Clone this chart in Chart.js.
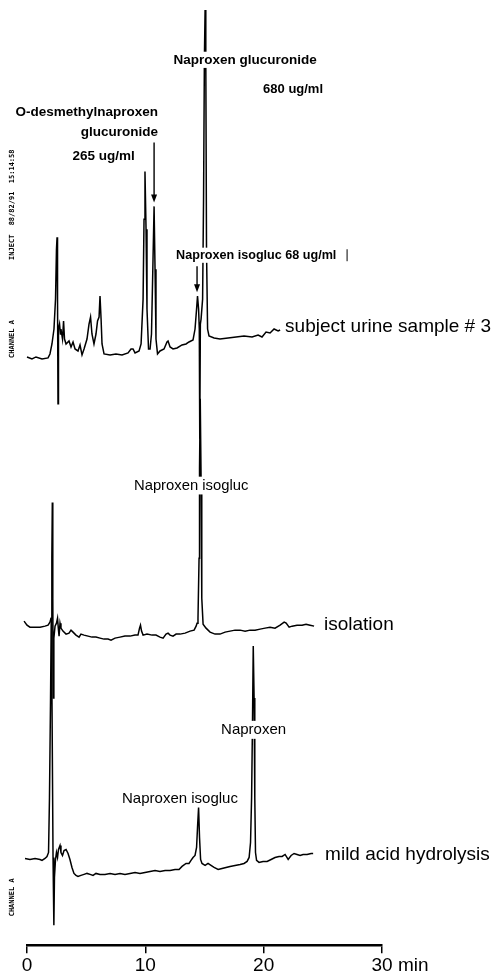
<!DOCTYPE html>
<html>
<head>
<meta charset="utf-8">
<script src="https://cdn.jsdelivr.net/npm/chart.js@4.4.1/dist/chart.umd.min.js"></script>
<style>
  html, body { margin: 0; padding: 0; background: #fff; }
  canvas { display: block; }
</style>
</head>
<body>
<canvas id="chrom" width="492" height="978"></canvas>
<script>
// retention time (min) and detector response (arbitrary units, traces stacked)
const urineTime = [0.00,0.42,0.76,1.27,1.78,1.94,2.11,2.28,2.41,2.49,2.54,2.58,2.62,2.66,2.75,2.83,2.87,3.00,3.09,3.17,3.30,3.55,3.72,3.89,4.06,4.31,4.48,4.65,4.82,5.07,5.24,5.37,5.49,5.66,5.83,5.96,6.09,6.17,6.26,6.34,6.51,7.02,7.52,8.03,8.54,8.79,8.96,9.13,9.47,9.64,9.81,9.89,9.97,10.06,10.14,10.27,10.40,10.52,10.65,10.74,10.82,10.90,11.03,11.24,11.58,11.83,11.92,12.09,12.34,12.68,13.10,13.44,13.69,14.03,14.20,14.33,14.41,14.50,14.56,14.60,14.65,14.71,14.84,14.92,14.99,15.05,15.11,15.17,15.26,15.38,15.81,16.31,16.99,17.67,18.34,19.02,19.53,19.86,20.20,20.54,20.88,21.22,21.39];
const urineSignal = [590,588,590,588,589,593,603,618,648,698,710,648,543,618,623,613,618,608,626,608,603,606,600,605,598,596,602,592,598,608,623,630,613,603,613,626,630,651,628,603,593,592,593,592,594,598,598,594,596,603,648,728,776,718,638,598,598,613,688,741,678,608,593,596,598,605,606,600,598,599,602,603,605,607,618,638,651,638,618,508,623,628,648,748,888,938,888,698,618,611,609,608,609,610,611,610,612,610,615,614,618,616,617];

const isolationTime = [-0.51,-0.25,0.00,0.25,0.68,1.10,1.52,1.78,1.94,2.03,2.10,2.14,2.18,2.22,2.27,2.37,2.49,2.58,2.66,2.71,2.79,2.87,3.04,3.30,3.55,3.72,3.89,4.14,4.40,4.56,4.82,5.16,5.49,5.83,6.17,6.51,6.85,7.10,7.44,7.86,8.28,8.71,9.13,9.38,9.51,9.59,9.68,9.81,10.14,10.57,10.90,11.24,11.50,11.75,11.92,12.09,12.34,12.60,12.93,13.36,13.78,14.12,14.29,14.37,14.45,14.54,14.58,14.64,14.71,14.77,14.88,15.13,15.47,15.89,16.31,16.74,17.16,17.58,18.01,18.43,18.85,19.27,19.70,20.12,20.54,20.96,21.39,21.73,21.90,22.15,22.40,22.82,23.25,23.58,23.92,24.26];
const isolationSignal = [326,325,321,319,319,319,320,321,324,328,388,444,348,248,308,320,323,328,316,310,323,318,315,312,313,316,314,311,309,312,311,310,309,309,308,307,307,306,308,309,310,310,311,311,318,321,315,311,312,311,311,309,308,312,313,311,310,312,312,313,315,316,320,323,328,388,478,548,468,348,322,318,314,312,312,314,315,316,316,315,316,316,317,318,319,318,321,324,323,319,320,321,321,322,321,320];

const hydrolysisTime = [-0.17,0.25,0.68,1.10,1.27,1.52,1.69,1.82,1.90,1.99,2.05,2.11,2.20,2.27,2.32,2.41,2.49,2.58,2.66,2.79,2.87,3.00,3.13,3.30,3.47,3.63,3.80,3.97,4.14,4.31,4.56,4.82,5.07,5.33,5.58,5.83,6.17,6.59,7.02,7.44,7.86,8.28,8.71,9.13,9.55,9.97,10.40,10.82,11.24,11.67,12.09,12.51,12.85,13.10,13.44,13.69,13.86,14.03,14.20,14.33,14.41,14.50,14.58,14.67,14.79,15.05,15.30,15.55,15.81,16.15,16.48,16.82,17.16,17.58,18.01,18.34,18.60,18.77,18.89,18.98,19.06,19.12,19.19,19.25,19.31,19.40,19.61,19.95,20.29,20.63,20.96,21.30,21.56,21.81,22.07,22.32,22.57,22.82,23.08,23.33,23.67,24.01,24.18];
const hydrolysisSignal = [87,86,87,86,85,87,89,93,148,248,328,248,88,20,68,86,93,88,96,100,93,90,95,96,92,86,78,72,70,69,70,71,72,71,70,72,71,71,72,71,72,71,72,73,72,73,74,75,74,75,75,76,76,79,82,82,85,88,90,98,118,138,108,86,82,80,82,80,78,76,77,78,79,80,81,82,84,88,103,148,228,300,248,148,93,85,83,84,84,86,88,89,89,91,86,90,92,91,90,91,91,92,92];

const timeTicks = [0, 10, 20, 30];

// peak labels: text, anchor time / response, font, alignment, white knock-out
const peakLabels = [
  { text: 'Naproxen glucuronide', t: 12.38, v: 888, size: 13.5, bold: true, align: 'left', box: true },
  { text: '680 ug/ml', t: 19.95, v: 858, size: 13, bold: true, align: 'left' },
  { text: 'O-desmethylnaproxen', t: 11.07, v: 835, size: 13.5, bold: true, align: 'right' },
  { text: 'glucuronide', t: 11.07, v: 815, size: 13.5, bold: true, align: 'right' },
  { text: '265 ug/ml', t: 3.85, v: 791, size: 13.5, bold: true, align: 'left' },
  { text: 'Naproxen isogluc 68 ug/ml', t: 12.60, v: 692, size: 12.6, bold: true, align: 'left', box: true },
  { text: 'subject urine sample # 3', t: 21.81, v: 620, size: 19, align: 'left' },
  { text: 'Naproxen isogluc', t: 9.04, v: 461, size: 14.8, align: 'left', box: true },
  { text: 'isolation', t: 25.10, v: 321, size: 19, align: 'left' },
  { text: 'Naproxen isogluc', t: 8.03, v: 147, size: 15, align: 'left' },
  { text: 'Naproxen', t: 16.40, v: 216, size: 15, align: 'left', box: true },
  { text: 'mild acid hydrolysis', t: 25.19, v: 91, size: 19, align: 'left' }
];
const arrows = [
  { t: 10.74, from: 805, to: 745 },
  { t: 14.37, from: 681, to: 655 }
];
const recorderNotes = [
  { text: '88/82/91  15:14:58', v: 760 },
  { text: 'INJECT', v: 700 },
  { text: 'CHANNEL A', v: 608 },
  { text: 'CHANNEL A', v: 48 }
];

const FONT = '"Liberation Sans", Arial, sans-serif';
const MONO = '"DejaVu Sans Mono", "Liberation Mono", monospace';

const annotate = {
  id: 'annotate',
  afterDatasetsDraw(chart) {
    const { ctx, scales: { x, y } } = chart;
    ctx.save();
    ctx.textBaseline = 'middle';
    peakLabels.forEach(l => {
      ctx.font = `${l.bold ? 'bold ' : ''}${l.size}px ${FONT}`;
      const px = x.getPixelForValue(l.t);
      const py = y.getPixelForValue(l.v);
      const w = ctx.measureText(l.text).width;
      const left = l.align === 'right' ? px - w : px;
      if (l.box) {
        ctx.fillStyle = '#fff';
        ctx.fillRect(left - 2, py - l.size * 0.6, w + 4, l.size * 1.2);
      }
      ctx.fillStyle = '#000';
      ctx.fillText(l.text, left, py);
    });
    // little tick mark after "68 ug/ml"
    ctx.strokeStyle = '#000';
    ctx.lineWidth = 1;
    const bx = x.getPixelForValue(27.05);
    ctx.beginPath();
    ctx.moveTo(bx, y.getPixelForValue(698));
    ctx.lineTo(bx, y.getPixelForValue(686));
    ctx.stroke();

    ctx.lineWidth = 1.4;
    ctx.fillStyle = '#000';
    arrows.forEach(a => {
      const ax = x.getPixelForValue(a.t);
      const y0 = y.getPixelForValue(a.from);
      const y1 = y.getPixelForValue(a.to);
      ctx.beginPath();
      ctx.moveTo(ax, y0);
      ctx.lineTo(ax, y1 - 6);
      ctx.stroke();
      ctx.beginPath();
      ctx.moveTo(ax - 3, y1 - 8);
      ctx.lineTo(ax + 3, y1 - 8);
      ctx.lineTo(ax, y1);
      ctx.closePath();
      ctx.fill();
    });

    // rotated recorder print-out on the left edge
    ctx.font = `bold 7px ${MONO}`;
    ctx.textAlign = 'center';
    recorderNotes.forEach(n => {
      ctx.save();
      ctx.translate(12, y.getPixelForValue(n.v));
      ctx.rotate(-Math.PI / 2);
      ctx.fillText(n.text, 0, 0);
      ctx.restore();
    });

    // unit after the last tick
    ctx.textAlign = 'left';
    ctx.font = `19px ${FONT}`;
    ctx.fillText('min', x.getPixelForValue(30) + 16, chart.chartArea.bottom + 21);
    ctx.restore();
  }
};

const toPoints = (ts, vs) => ts.map((t, i) => ({ x: t, y: vs[i] }));
const trace = (label, ts, vs) => ({
  label,
  data: toPoints(ts, vs),
  borderColor: '#000',
  borderWidth: 1.5,
  pointRadius: 0,
  tension: 0,
  clip: false
});

new Chart(document.getElementById('chrom'), {
  type: 'line',
  data: {
    datasets: [
      trace('subject urine sample # 3', urineTime, urineSignal),
      trace('isolation', isolationTime, isolationSignal),
      trace('mild acid hydrolysis', hydrolysisTime, hydrolysisSignal)
    ]
  },
  options: {
    responsive: false,
    animation: false,
    devicePixelRatio: 1,
    layout: { padding: { left: 27, right: 110, top: 0, bottom: 0 } },
    plugins: { legend: { display: false }, tooltip: { enabled: false } },
    scales: {
      x: {
        type: 'linear',
        min: 0,
        max: 30,
        afterBuildTicks: s => { s.ticks = timeTicks.map(v => ({ value: v })); },
        ticks: { color: '#000', padding: 1, font: { family: FONT, size: 19 } },
        grid: { drawOnChartArea: false, color: '#000', lineWidth: 1.5, tickLength: 8 },
        border: { color: '#000', width: 2.5 }
      },
      y: { display: false, min: 0, max: 948 }
    }
  },
  plugins: [annotate]
});
</script>
</body>
</html>
